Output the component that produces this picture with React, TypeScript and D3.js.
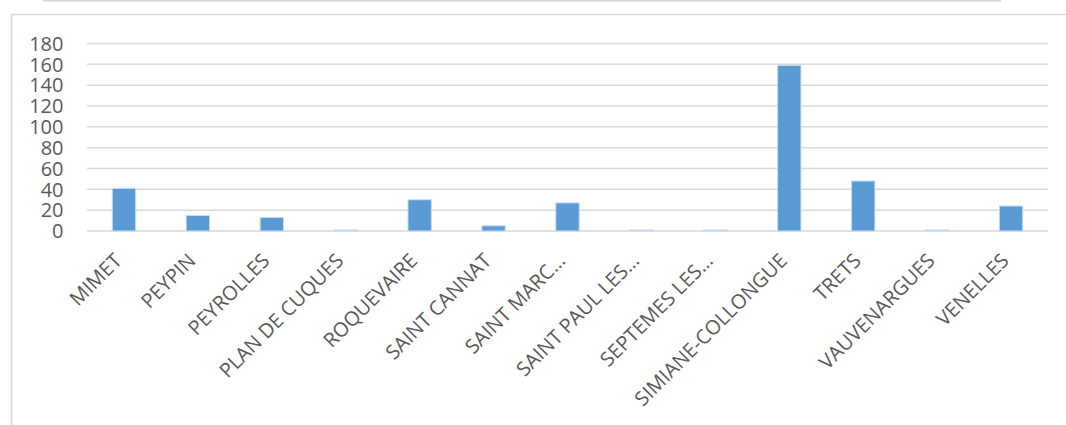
import React, { useEffect, useRef } from "react";
import * as d3 from "d3";

const categories = [
  "MIMET",
  "PEYPIN",
  "PEYROLLES",
  "PLAN DE CUQUES",
  "ROQUEVAIRE",
  "SAINT CANNAT",
  "SAINT MARC…",
  "SAINT PAUL LES…",
  "SEPTEMES LES…",
  "SIMIANE-COLLONGUE",
  "TRETS",
  "VAUVENARGUES",
  "VENELLES",
];
const values = [41, 15, 13, 1, 30, 5, 27, 1, 1, 159, 48, 1, 24];
const yTicks = [0, 20, 40, 60, 80, 100, 120, 140, 160, 180];

const W = 1066;
const H = 425;

export default function App() {
  const ref = useRef<SVGSVGElement>(null);

  useEffect(() => {
    const svg = d3.select(ref.current);
    svg.selectAll("*").remove();

    const left = 87;
    const right = 1048;
    const top = 43.5;
    const bottom = 231;

    // outer decorations
    svg
      .append("line")
      .attr("x1", 43)
      .attr("x2", 1001)
      .attr("y1", 0.5)
      .attr("y2", 0.5)
      .attr("stroke", "#d4d4d4")
      .attr("stroke-width", 2);
    svg
      .append("rect")
      .attr("x", 11.5)
      .attr("y", 14.5)
      .attr("width", 1100)
      .attr("height", 500)
      .attr("fill", "none")
      .attr("stroke", "#d9d9d9")
      .attr("stroke-width", 1.5);

    const x = d3.scaleBand<string>().domain(categories).range([left, right]).paddingInner(0.684).paddingOuter(0.342);
    const y = d3.scaleLinear().domain([0, 180]).range([bottom, top]);

    const g = svg.append("g");
    g.selectAll("line.grid")
      .data(yTicks)
      .join("line")
      .attr("class", "grid")
      .attr("x1", left)
      .attr("x2", right)
      .attr("y1", (d) => y(d))
      .attr("y2", (d) => y(d))
      .attr("stroke", "#d9d9d9")
      .attr("stroke-width", 1.5);

    g.selectAll("text.ytick")
      .data(yTicks)
      .join("text")
      .attr("class", "ytick")
      .attr("x", 63.5)
      .attr("y", (d) => y(d))
      .attr("dy", "0.36em")
      .attr("text-anchor", "end")
      .attr("font-family", "'Open Sans', sans-serif")
      .attr("font-size", 20)
      .attr("fill", "#595959")
      .text((d) => String(d));

    g.selectAll("rect.bar")
      .data(values)
      .join("rect")
      .attr("class", "bar")
      .attr("x", (_, i) => x(categories[i])!)
      .attr("width", x.bandwidth())
      .attr("y", (d) => y(d))
      .attr("height", (d) => bottom - y(d))
      .attr("fill", "#5b9bd5")
      .attr("stroke", "#c5dcf0")
      .attr("stroke-width", 1);

    g.selectAll("text.xtick")
      .data(categories)
      .join("text")
      .attr("class", "xtick")
      .attr("transform", (d) => `translate(${x(d)! + x.bandwidth() / 2 - 1},${bottom + 31}) rotate(-45)`)
      .attr("text-anchor", "end")
      .attr("font-family", "'Open Sans', sans-serif")
      .attr("font-size", 20)
      .attr("fill", "#595959")
      .text((d) => d);
  }, []);

  return (
    <svg
      ref={ref}
      width={W}
      height={H}
      style={{ position: "absolute", left: 0, top: 0, background: "#fff" }}
    />
  );
}
